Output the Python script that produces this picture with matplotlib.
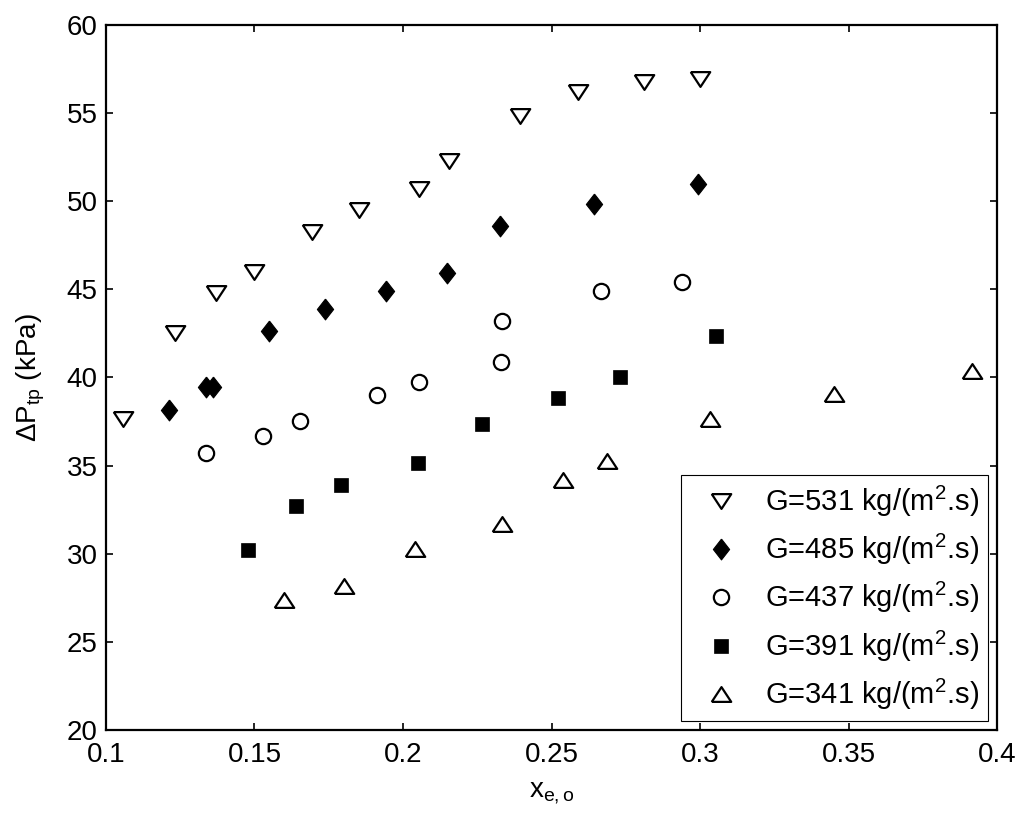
import numpy as np
import matplotlib.pyplot as plt

plt.rcParams['font.family'] = ['Liberation Sans', 'DejaVu Sans']
plt.rcParams['mathtext.fontset'] = 'custom'
plt.rcParams['mathtext.rm'] = 'Liberation Sans'
plt.rcParams['mathtext.it'] = 'Liberation Sans:italic'

# quality x_e,o vs two-phase pressure drop, one set per mass flux
x_531 = [0.1058, 0.1232, 0.137, 0.1498, 0.1695, 0.1853, 0.2054, 0.2155, 0.2394, 0.259, 0.2811, 0.2999]
dp_531 = [37.66, 42.53, 44.8, 45.99, 48.23, 49.48, 50.69, 52.28, 54.84, 56.19, 56.77, 56.96]

x_485 = [0.1212, 0.1337, 0.1359, 0.155, 0.1737, 0.1943, 0.2147, 0.2327, 0.2644, 0.2993]
dp_485 = [38.13, 39.47, 39.47, 42.62, 43.89, 44.93, 45.93, 48.57, 49.84, 50.95]

x_437 = [0.1337, 0.153, 0.1654, 0.1912, 0.2054, 0.233, 0.2332, 0.2665, 0.2938]
dp_437 = [35.73, 36.67, 37.51, 38.98, 39.73, 40.87, 43.23, 44.93, 45.44]

x_391 = [0.1479, 0.1641, 0.1792, 0.205, 0.2266, 0.2523, 0.2731, 0.3054]
dp_391 = [30.21, 32.69, 33.88, 35.14, 37.35, 38.81, 40.0, 42.36]

x_341 = [0.16, 0.1802, 0.204, 0.2332, 0.254, 0.2686, 0.3034, 0.3452, 0.3915]
dp_341 = [27.35, 28.18, 30.29, 31.71, 34.18, 35.26, 37.66, 39.09, 40.34]

labels = ['G=531 kg/(m$^2$.s)', 'G=485 kg/(m$^2$.s)', 'G=437 kg/(m$^2$.s)',
          'G=391 kg/(m$^2$.s)', 'G=341 kg/(m$^2$.s)']

# wide triangles and a tall diamond
tri_down = [(-1, 0.76), (1, 0.76), (0, -0.76), (-1, 0.76)]
tri_up = [(-1, -0.76), (1, -0.76), (0, 0.76), (-1, -0.76)]
diamond = [(0, 1), (0.78, 0), (0, -1), (-0.78, 0), (0, 1)]

fig = plt.figure(figsize=(10.25, 8.19), dpi=100)
ax = fig.add_axes([0.1034, 0.1087, 0.8693, 0.8608])

ax.plot(x_531, dp_531, linestyle='none', marker=tri_down, ms=14, mfc='white', mec='black', mew=1.6, label=labels[0])
ax.plot(x_485, dp_485, linestyle='none', marker=diamond, ms=15, mfc='black', mec='black', mew=0.8, label=labels[1])
ax.plot(x_437, dp_437, linestyle='none', marker='o', ms=11, mfc='white', mec='black', mew=1.6, label=labels[2])
ax.plot(x_391, dp_391, linestyle='none', marker='s', ms=10, mfc='black', mec='black', mew=0.5, label=labels[3])
ax.plot(x_341, dp_341, linestyle='none', marker=tri_up, ms=14, mfc='white', mec='black', mew=1.6, label=labels[4])

ax.set_xlim(0.1, 0.4)
ax.set_ylim(20, 60)
ax.set_xticks(np.arange(0.1, 0.401, 0.05))
ax.set_xticklabels(['0.1', '0.15', '0.2', '0.25', '0.3', '0.35', '0.4'])
ax.set_yticks(np.arange(20, 61, 5))

for s in ax.spines.values():
    s.set_linewidth(1.6)
ax.tick_params(direction='in', length=5, width=1.2, top=True, right=True, labelsize=20)
ax.tick_params(axis='x', pad=8.5)
ax.tick_params(axis='y', pad=6)

ax.set_xlabel(r'x$_{\mathrm{e,o}}$', fontsize=20, labelpad=9)
ax.set_ylabel(r'$\Delta\mathrm{P}_{\mathrm{tp}}$ (kPa)', fontsize=20, labelpad=14)

leg = ax.legend(loc='lower right', bbox_to_anchor=(0.99, 0.013), borderaxespad=0,
                fontsize=21, fancybox=False, edgecolor='black', framealpha=1,
                labelspacing=0.45, handletextpad=0.4, handlelength=2.2, borderpad=0.3)
leg.get_frame().set_linewidth(0.8)

fig.savefig('out.png', dpi=100)
